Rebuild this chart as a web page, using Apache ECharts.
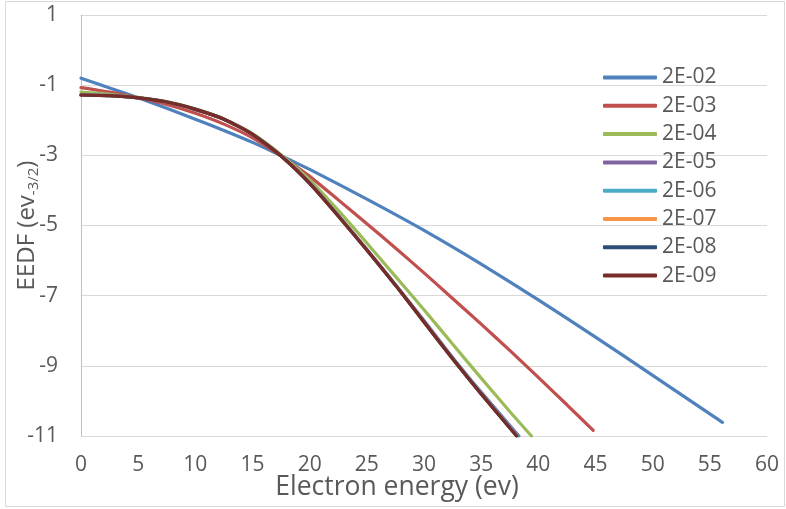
<!DOCTYPE html>
<html>
<head>
<meta charset="utf-8">
<script src="https://cdn.jsdelivr.net/npm/echarts@6/dist/echarts.min.js"></script>
<style>
  html, body { margin: 0; padding: 0; background: #ffffff; }
  #chart { width: 786px; height: 509px; }
</style>
</head>
<body>
<div id="chart"></div>
<script>
// Electron energy distribution function for several ratios
const seriesNames = ['2E-02', '2E-03', '2E-04', '2E-05', '2E-06', '2E-07', '2E-08', '2E-09'];
const seriesColors = ['#4F81BD', '#C0504D', '#9BBB59', '#8064A2', '#4BACC6', '#F79646', '#2C4D75', '#772C2A'];

const energy02 = [0, 2.5, 5, 7.5, 10, 12.5, 15, 17.5, 20, 25, 30, 35, 40, 45, 50, 55, 56.1];
const eedf02   = [-0.80, -1.08, -1.36, -1.66, -1.97, -2.29, -2.63, -3.01, -3.40, -4.25, -5.14, -6.10, -7.12, -8.18, -9.27, -10.37, -10.61];

const energy03 = [0, 2.5, 5, 7.5, 10, 12.5, 15, 17.5, 20, 22.5, 25, 27.5, 30, 32.5, 35, 37.5, 40, 42.5, 44.8];
const eedf03   = [-1.07, -1.20, -1.36, -1.55, -1.80, -2.11, -2.50, -3.02, -3.60, -4.27, -4.95, -5.64, -6.35, -7.08, -7.81, -8.56, -9.33, -10.11, -10.84];

const energy04 = [0, 2.5, 5, 7.5, 10, 12.5, 15, 17.5, 20, 22.5, 25, 27.5, 30, 32.5, 35, 37.5, 39.4];
const eedf04   = [-1.20, -1.26, -1.35, -1.47, -1.67, -1.96, -2.38, -2.98, -3.70, -4.57, -5.50, -6.45, -7.40, -8.38, -9.35, -10.30, -11.00];

const energy05 = [0, 2.5, 5, 7.5, 10, 12.5, 15, 17.5, 20, 22.5, 25, 27.5, 30, 32.5, 35, 38.3];
const eedf05   = [-1.27, -1.29, -1.36, -1.48, -1.69, -1.97, -2.40, -3.01, -3.78, -4.71, -5.68, -6.68, -7.71, -8.76, -9.75, -11.00];

const energy06 = [0, 2.5, 5, 7.5, 10, 12.5, 15, 17.5, 20, 22.5, 25, 27.5, 30, 32.5, 35, 38.2];
const eedf06   = [-1.28, -1.30, -1.36, -1.48, -1.69, -1.97, -2.40, -3.02, -3.79, -4.72, -5.69, -6.69, -7.73, -8.78, -9.77, -11.00];

const energy07 = [0, 2.5, 5, 7.5, 10, 12.5, 15, 17.5, 20, 22.5, 25, 27.5, 30, 32.5, 35, 38.1];
const eedf07   = [-1.28, -1.30, -1.36, -1.48, -1.69, -1.97, -2.40, -3.02, -3.80, -4.73, -5.70, -6.70, -7.75, -8.80, -9.80, -11.00];

const energy08 = [0, 2.5, 5, 7.5, 10, 12.5, 15, 17.5, 20, 22.5, 25, 27.5, 30, 32.5, 35, 38.1];
const eedf08   = [-1.28, -1.30, -1.36, -1.48, -1.69, -1.97, -2.40, -3.02, -3.80, -4.73, -5.70, -6.70, -7.75, -8.80, -9.80, -11.00];

const energy09 = [0, 2.5, 5, 7.5, 10, 12.5, 15, 17.5, 20, 22.5, 25, 27.5, 30, 32.5, 35, 38.1];
const eedf09   = [-1.28, -1.30, -1.36, -1.48, -1.69, -1.97, -2.40, -3.02, -3.80, -4.73, -5.70, -6.70, -7.75, -8.80, -9.80, -11.00];

const energies = [energy02, energy03, energy04, energy05, energy06, energy07, energy08, energy09];
const eedfs = [eedf02, eedf03, eedf04, eedf05, eedf06, eedf07, eedf08, eedf09];

const xTicks = { min: 0, max: 60, step: 5 };
const yTicks = { min: -11, max: 1, step: 2 };

const FONT = '"Open Sans", "Noto Sans", sans-serif';
const TEXT_COLOR = '#595959';

const pairs = (xs, ys) => xs.map((x, i) => [x, ys[i]]);

const chart = echarts.init(document.getElementById('chart'), null, { renderer: 'canvas' });

chart.setOption({
  animation: false,
  backgroundColor: '#ffffff',
  textStyle: { fontFamily: FONT },
  graphic: [{
    type: 'rect',
    shape: { x: 5.5, y: 1.5, width: 779, height: 505 },
    style: { fill: 'none', stroke: '#d9d9d9', lineWidth: 1 },
    silent: true,
    z: -1
  }],
  grid: { left: 81, right: 19, top: 15, bottom: 73, containLabel: false, outerBoundsMode: 'none' },
  legend: {
    orient: 'vertical',
    left: 603,
    top: 67,
    padding: 0,
    icon: 'roundRect',
    itemWidth: 54,
    itemHeight: 4,
    itemGap: 7.3,
    textStyle: { fontFamily: FONT, fontSize: 21, color: TEXT_COLOR, lineHeight: 20 },
    data: seriesNames
  },
  xAxis: {
    type: 'value',
    min: xTicks.min,
    max: xTicks.max,
    interval: xTicks.step,
    name: 'Electron energy (ev)',
    nameLocation: 'middle',
    nameGap: 38,
    nameMoveOverlap: false,
    nameTextStyle: { fontFamily: FONT, fontSize: 26.5, color: TEXT_COLOR, padding: [0, 54, 0, 0] },
    axisLine: { show: false },
    axisTick: { show: false },
    splitLine: { show: false },
    axisLabel: { fontFamily: FONT, fontSize: 21, color: TEXT_COLOR, margin: 19 }
  },
  yAxis: {
    type: 'value',
    min: yTicks.min,
    max: yTicks.max,
    interval: yTicks.step,
    name: '{n|EEDF (ev}{s|-3/2}{n|)}',
    nameLocation: 'middle',
    nameRotate: 90,
    nameGap: 42,
    nameMoveOverlap: false,
    nameTextStyle: {
      fontFamily: FONT,
      color: TEXT_COLOR,
      rich: {
        n: { fontFamily: FONT, fontSize: 24, color: TEXT_COLOR, lineHeight: 28, verticalAlign: 'bottom' },
        s: { fontFamily: FONT, fontSize: 15, color: TEXT_COLOR, lineHeight: 28, verticalAlign: 'bottom', padding: [0, 0, -2, 0] }
      }
    },
    axisLine: { show: true, onZero: false, lineStyle: { color: '#BFBFBF', width: 1 } },
    axisTick: { show: false },
    splitLine: { show: true, lineStyle: { color: '#D9D9D9', width: 1 } },
    axisLabel: { fontFamily: FONT, fontSize: 21, color: TEXT_COLOR, margin: 23 }
  },
  series: seriesNames.map((name, i) => ({
    name: name,
    type: 'line',
    data: pairs(energies[i], eedfs[i]),
    smooth: 0.2,
    symbol: 'none',
    clip: true,
    lineStyle: { color: seriesColors[i], width: 3.2, cap: 'round' },
    itemStyle: { color: seriesColors[i] },
    z: 2 + i
  }))
});
</script>
</body>
</html>
